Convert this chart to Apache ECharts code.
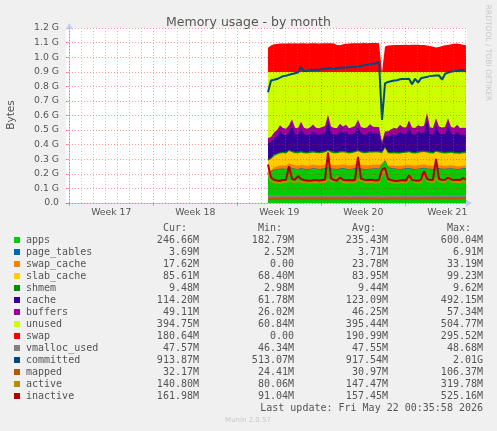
<!DOCTYPE html>
<html><head><meta charset="utf-8">
<script src="https://cdn.jsdelivr.net/npm/echarts@6/dist/echarts.min.js"></script>
<style>html,body{margin:0;padding:0;background:#F0F0F0;}#c{width:497px;height:431px;}</style>
</head><body><div id="c"></div>
<script>
// time: days after the start of Week 17; one sample every 6 hours
const START_DAY = 16.558;
const STEP_DAY = 0.25;
const weekLabels = ['Week 17', 'Week 18', 'Week 19', 'Week 20', 'Week 21'];
const weekStartDays = [0, 7, 14, 21, 28];
const X_MIN = -0.275, X_MAX = 33.14;
const Y_MAX = 1.2, Y_STEP = 0.1;

// values in G (1024 M)
const apps = [0.205,0.212,0.226,0.229,0.231,0.233,0.230,0.245,0.236,0.232,
0.230,0.234,0.231,0.229,0.232,0.235,0.233,0.230,0.231,0.236,
0.242,0.234,0.231,0.230,0.233,0.236,0.232,0.230,0.231,0.234,
0.240,0.233,0.230,0.229,0.231,0.233,0.235,0.232,0.262,0.288,
0.243,0.236,0.233,0.231,0.230,0.232,0.234,0.236,0.231,0.230,
0.232,0.235,0.238,0.233,0.231,0.230,0.240,0.234,0.232,0.231,
0.233,0.235,0.232,0.230,0.231,0.234,0.236];
const pageTables = [0.0030,0.0032,0.0036,0.0036,0.0036,0.0036,0.0036,0.0036,0.0036,0.0036,
0.0036,0.0036,0.0036,0.0036,0.0036,0.0036,0.0036,0.0036,0.0036,0.0036,
0.0036,0.0036,0.0036,0.0036,0.0036,0.0036,0.0036,0.0036,0.0036,0.0036,
0.0036,0.0036,0.0036,0.0036,0.0036,0.0036,0.0036,0.0036,0.0036,0.0036,
0.0036,0.0036,0.0036,0.0036,0.0036,0.0036,0.0036,0.0036,0.0036,0.0036,
0.0036,0.0036,0.0036,0.0036,0.0036,0.0036,0.0036,0.0036,0.0036,0.0036,
0.0036,0.0036,0.0036,0.0036,0.0036,0.0036,0.0036];
const swapCache = [0.006,0.010,0.015,0.020,0.022,0.023,0.024,0.024,0.025,0.024,
0.024,0.025,0.024,0.023,0.024,0.025,0.024,0.024,0.025,0.025,
0.026,0.025,0.024,0.025,0.026,0.025,0.025,0.024,0.025,0.026,
0.026,0.025,0.025,0.026,0.026,0.025,0.026,0.026,0.000,0.006,
0.012,0.017,0.020,0.021,0.022,0.022,0.023,0.023,0.022,0.023,
0.023,0.024,0.024,0.023,0.022,0.022,0.023,0.022,0.021,0.021,
0.020,0.020,0.019,0.019,0.018,0.018,0.018];
const slabCache = [0.076,0.076,0.078,0.080,0.082,0.083,0.082,0.084,0.083,0.082,
0.083,0.084,0.082,0.083,0.084,0.083,0.082,0.083,0.084,0.083,
0.085,0.084,0.083,0.082,0.084,0.083,0.084,0.082,0.083,0.084,
0.085,0.084,0.083,0.084,0.085,0.084,0.083,0.084,0.075,0.080,
0.082,0.083,0.084,0.083,0.084,0.085,0.084,0.085,0.084,0.083,
0.084,0.085,0.084,0.086,0.085,0.084,0.085,0.086,0.085,0.084,
0.085,0.086,0.085,0.086,0.085,0.086,0.086];
const shmem = [0.0092,0.0092,0.0092,0.0092,0.0092,0.0092,0.0092,0.0092,0.0092,0.0092,
0.0092,0.0092,0.0092,0.0092,0.0092,0.0092,0.0092,0.0092,0.0092,0.0092,
0.0092,0.0092,0.0092,0.0092,0.0092,0.0092,0.0092,0.0092,0.0092,0.0092,
0.0092,0.0092,0.0092,0.0092,0.0092,0.0092,0.0092,0.0092,0.0092,0.0092,
0.0092,0.0092,0.0092,0.0092,0.0092,0.0092,0.0092,0.0092,0.0092,0.0092,
0.0092,0.0092,0.0092,0.0092,0.0092,0.0092,0.0092,0.0092,0.0092,0.0092,
0.0092,0.0092,0.0092,0.0092,0.0092,0.0092,0.0092];
const cache = [0.110,0.108,0.112,0.115,0.140,0.118,0.116,0.122,0.170,0.120,
0.118,0.155,0.121,0.117,0.119,0.135,0.120,0.118,0.122,0.125,
0.190,0.123,0.118,0.120,0.140,0.121,0.135,0.119,0.122,0.124,
0.160,0.121,0.118,0.120,0.138,0.122,0.119,0.121,0.050,0.075,
0.105,0.115,0.120,0.118,0.140,0.121,0.119,0.160,0.122,0.120,
0.135,0.121,0.124,0.210,0.122,0.120,0.170,0.123,0.121,0.125,
0.180,0.122,0.120,0.140,0.121,0.118,0.114];
const buffers = [0.036,0.035,0.040,0.043,0.046,0.045,0.044,0.046,0.048,0.045,
0.044,0.047,0.045,0.044,0.046,0.047,0.045,0.044,0.046,0.047,
0.050,0.046,0.045,0.044,0.047,0.046,0.047,0.045,0.046,0.047,
0.049,0.046,0.045,0.046,0.048,0.046,0.045,0.046,0.020,0.030,
0.038,0.042,0.044,0.045,0.047,0.046,0.045,0.049,0.046,0.045,
0.047,0.046,0.047,0.052,0.046,0.045,0.050,0.047,0.046,0.047,
0.050,0.047,0.046,0.048,0.047,0.048,0.048];
const unused = [0.4528,0.4446,0.4142,0.3982,0.3642,0.3832,0.3892,0.3642,0.3232,0.3822,
0.3862,0.3402,0.3822,0.3892,0.3802,0.3602,0.3812,0.3862,0.3772,0.3692,
0.2922,0.3732,0.3842,0.3842,0.3552,0.3742,0.3622,0.3852,0.3782,0.3702,
0.3252,0.3762,0.3842,0.3802,0.3572,0.3752,0.3772,0.3762,0.4782,0.4062,
0.4052,0.3922,0.3842,0.3872,0.3622,0.3792,0.3802,0.3322,0.3802,0.3842,
0.3642,0.3742,0.3682,0.2812,0.3792,0.3842,0.3172,0.3732,0.3802,0.3772,
0.3172,0.3752,0.3832,0.3622,0.3832,0.3812,0.3832];
const swap = [0.167,0.182,0.190,0.193,0.195,0.196,0.195,0.197,0.196,0.197,
0.196,0.198,0.197,0.196,0.197,0.198,0.197,0.196,0.197,0.198,
0.198,0.197,0.196,0.186,0.184,0.190,0.194,0.196,0.197,0.198,
0.197,0.198,0.199,0.198,0.199,0.200,0.199,0.198,0.000,0.175,
0.182,0.184,0.185,0.185,0.186,0.186,0.187,0.186,0.187,0.188,
0.187,0.186,0.185,0.182,0.178,0.174,0.168,0.172,0.178,0.183,
0.186,0.190,0.194,0.195,0.193,0.188,0.183];
const vmallocUsed = [0.0453,0.0460,0.0463,0.0464,0.0465,0.0465,0.0465,0.0465,0.0465,0.0465,
0.0465,0.0465,0.0465,0.0465,0.0465,0.0465,0.0465,0.0465,0.0465,0.0465,
0.0465,0.0465,0.0465,0.0465,0.0465,0.0465,0.0465,0.0465,0.0465,0.0465,
0.0465,0.0465,0.0465,0.0465,0.0465,0.0465,0.0465,0.0465,0.0455,0.0460,
0.0463,0.0464,0.0465,0.0465,0.0465,0.0465,0.0465,0.0465,0.0465,0.0465,
0.0465,0.0465,0.0465,0.0465,0.0465,0.0465,0.0465,0.0465,0.0465,0.0465,
0.0465,0.0465,0.0465,0.0465,0.0465,0.0465,0.0465];
const committed = [0.760,0.840,0.845,0.850,0.860,0.870,0.872,0.880,0.885,0.890,
0.895,0.930,0.905,0.905,0.910,0.910,0.915,0.912,0.918,0.920,
0.922,0.925,0.920,0.925,0.928,0.930,0.928,0.932,0.935,0.930,
0.935,0.940,0.945,0.948,0.950,0.955,0.958,0.965,0.570,0.820,
0.830,0.835,0.840,0.842,0.848,0.850,0.850,0.852,0.815,0.852,
0.825,0.855,0.860,0.865,0.870,0.872,0.875,0.875,0.845,0.885,
0.895,0.900,0.905,0.905,0.910,0.912,0.900];
const mapped = [0.026,0.028,0.029,0.030,0.030,0.031,0.030,0.031,0.030,0.030,
0.031,0.030,0.030,0.031,0.030,0.030,0.031,0.030,0.030,0.031,
0.031,0.030,0.030,0.031,0.030,0.030,0.031,0.030,0.030,0.031,
0.031,0.030,0.030,0.031,0.030,0.030,0.031,0.030,0.027,0.029,
0.030,0.031,0.031,0.030,0.031,0.031,0.030,0.031,0.031,0.030,
0.031,0.031,0.031,0.032,0.031,0.031,0.032,0.031,0.031,0.032,
0.032,0.031,0.032,0.032,0.031,0.032,0.032];
const active = [0.210,0.150,0.142,0.140,0.138,0.142,0.145,0.150,0.148,0.143,
0.150,0.146,0.142,0.140,0.138,0.141,0.143,0.140,0.142,0.145,
0.160,0.150,0.145,0.185,0.150,0.144,0.141,0.143,0.140,0.142,
0.165,0.150,0.146,0.143,0.145,0.142,0.140,0.143,0.200,0.220,
0.150,0.143,0.138,0.136,0.140,0.143,0.138,0.160,0.170,0.141,
0.138,0.145,0.200,0.150,0.145,0.142,0.170,0.150,0.146,0.143,
0.185,0.148,0.143,0.145,0.142,0.150,0.141];
const inactive = [0.264,0.175,0.160,0.155,0.152,0.158,0.160,0.253,0.165,0.160,
0.185,0.165,0.158,0.155,0.152,0.156,0.158,0.155,0.157,0.160,
0.345,0.170,0.158,0.154,0.175,0.160,0.156,0.158,0.155,0.158,
0.317,0.168,0.160,0.158,0.160,0.157,0.155,0.158,0.230,0.240,
0.165,0.158,0.152,0.150,0.155,0.158,0.152,0.190,0.160,0.155,
0.152,0.160,0.218,0.165,0.160,0.158,0.303,0.165,0.160,0.158,
0.175,0.162,0.158,0.160,0.157,0.170,0.162];

const seriesNames = ['apps','page_tables','swap_cache','slab_cache','shmem','cache','buffers','unused','swap','vmalloc_used','committed','mapped','active','inactive'];
const seriesColors = ['#00CC00','#0066B3','#FF8000','#FFCC00','#008F00','#330099','#990099','#CCFF00','#FF0000','#808080','#00487D','#B35A00','#B38F00','#B30000'];
const stackedData = [apps, pageTables, swapCache, slabCache, shmem, cache, buffers, unused, swap];
const lineData = [vmallocUsed, committed, mapped, active, inactive];
const curText = ['246.66M','3.69M','17.62M','85.61M','9.48M','114.20M','49.11M','394.75M','180.64M','47.57M','913.87M','32.17M','140.80M','161.98M'];
const minText = ['182.79M','2.52M','0.00','68.40M','2.98M','61.78M','26.02M','60.84M','0.00','46.34M','513.07M','24.41M','80.06M','91.04M'];
const avgText = ['235.43M','3.71M','23.78M','83.95M','9.44M','123.09M','46.25M','395.44M','190.99M','47.55M','917.54M','30.97M','147.47M','157.45M'];
const maxText = ['600.04M','6.91M','33.19M','99.23M','9.62M','492.15M','57.34M','504.77M','295.52M','48.68M','2.01G','106.37M','319.78M','525.16M'];
const colHeaders = ['Cur:','Min:','Avg:','Max:'];
const lastUpdate = 'Last update: Fri May 22 00:35:58 2026';

const SANS = 'DejaVu Sans', MONO = 'DejaVu Sans Mono';
const FONT_COLOR = '#555';
const GRID_MINOR = 'rgba(128,128,128,0.42)';
const GRID_MAJOR = 'rgba(255,0,0,0.38)';
const AXIS_COLOR = '#C4CCF4';

const xAt = i => START_DAY + i * STEP_DAY;
const pts = arr => arr.map((v, i) => [xAt(i), v]);

// stack tops (running sums) for the area layers, drawn top-down so lower layers cover the upper ones
const stackTops = [];
stackedData.forEach((arr, k) => {
  stackTops.push(arr.map((v, i) => (k ? stackTops[k - 1][i] : 0) + v));
});
const series = [];
for (let k = stackedData.length - 1; k >= 0; k--) {
  series.push({
    name: seriesNames[k], type: 'line', data: pts(stackTops[k]),
    symbol: 'none', showSymbol: false, lineStyle: { width: 0 },
    areaStyle: { color: seriesColors[k], opacity: 1, origin: 'start' }, itemStyle: { color: seriesColors[k] },
    silent: true, animation: false
  });
}
lineData.forEach((arr, j) => {
  const k = stackedData.length + j;
  series.push({
    name: seriesNames[k], type: 'line', data: pts(arr), symbol: 'none', showSymbol: false,
    lineStyle: { width: k === 9 ? 2.5 : 2, color: seriesColors[k] }, itemStyle: { color: seriesColors[k] },
    silent: true, animation: false
  });
});
// vertical grid lines (days, weeks) drawn on top like rrdtool
const vlines = [];
for (let d = Math.ceil(X_MIN); d <= Math.floor(X_MAX); d++) {
  const major = weekStartDays.indexOf(d) >= 0;
  vlines.push({ xAxis: d, lineStyle: { color: major ? GRID_MAJOR : GRID_MINOR, type: [1, 2], width: 1 } });
}
series.push({
  type: 'line', data: [], silent: true, animation: false,
  markLine: { silent: true, symbol: 'none', label: { show: false }, animation: false, data: vlines, z: 6 }
});

const weekLabelAt = {};
weekLabels.forEach((l, i) => { weekLabelAt[(weekStartDays[i] + 3.5).toFixed(1)] = l; });

const graphics = [];
graphics.push({ type: 'text', x: 11, y: 115, rotation: Math.PI / 2,
  style: { text: 'Bytes', font: '10.5px "' + SANS + '"', fill: FONT_COLOR, align: 'center', verticalAlign: 'middle' } });
graphics.push({ type: 'text', x: 487.5, y: 53, rotation: -Math.PI / 2,
  style: { text: 'RRDTOOL / TOBI OETIKER', font: '7.5px "' + SANS + '"', fill: '#C8C8C8', align: 'center', verticalAlign: 'middle' } });
const colRight = [199, 294, 388, 483];
colHeaders.forEach((h, c) => graphics.push({ type: 'text', x: colRight[c] - 12, y: 228,
  style: { text: h, font: '10px "' + MONO + '"', fill: FONT_COLOR, align: 'right', verticalAlign: 'middle' } }));
seriesNames.forEach((n, k) => {
  const y = 240 + 12 * k;
  graphics.push({ type: 'rect', shape: { x: 14, y: y - 3, width: 6, height: 6 }, style: { fill: seriesColors[k] } });
  graphics.push({ type: 'text', x: 26, y: y, style: { text: n, font: '10px "' + MONO + '"', fill: FONT_COLOR, align: 'left', verticalAlign: 'middle' } });
  [curText, minText, avgText, maxText].forEach((col, c) => graphics.push({ type: 'text', x: colRight[c], y: y,
    style: { text: col[k], font: '10px "' + MONO + '"', fill: FONT_COLOR, align: 'right', verticalAlign: 'middle' } }));
});
graphics.push({ type: 'text', x: 483, y: 408, style: { text: lastUpdate, font: '10px "' + MONO + '"', fill: FONT_COLOR, align: 'right', verticalAlign: 'middle' } });
graphics.push({ type: 'text', x: 248, y: 420, style: { text: 'Munin 2.0.57', font: '7px "' + SANS + '"', fill: '#C8C8C8', align: 'center', verticalAlign: 'middle' } });

const chart = echarts.init(document.getElementById('c'), null, { renderer: 'canvas', width: 497, height: 431 });
chart.setOption({
  backgroundColor: '#F0F0F0',
  animation: false,
  title: { text: 'Memory usage - by month', left: 'center', top: 11,
    textStyle: { fontFamily: SANS, fontSize: 12.5, fontWeight: 'normal', color: FONT_COLOR } },
  grid: { left: 66, right: 30, top: 28, bottom: 228, show: true, backgroundColor: '#FFFFFF', borderWidth: 0 },
  xAxis: {
    type: 'value', min: X_MIN, max: X_MAX,
    axisLine: { show: true, lineStyle: { color: AXIS_COLOR, width: 1 }, symbol: ['none', 'arrow'], symbolSize: [6, 7], symbolOffset: [0, 5] },
    axisTick: { show: true, customValues: weekStartDays, length: 3, lineStyle: { color: GRID_MAJOR } },
    axisLabel: { customValues: weekLabels.map((l, i) => weekStartDays[i] + 3.5), margin: 5,
      formatter: v => weekLabelAt[Number(v).toFixed(1)] || '',
      fontFamily: SANS, fontSize: 9.3, color: FONT_COLOR },
    splitLine: { show: false }
  },
  yAxis: {
    type: 'value', min: 0, max: Y_MAX, interval: Y_STEP, z: 5,
    axisLine: { show: true, lineStyle: { color: AXIS_COLOR, width: 1 }, symbol: ['none', 'arrow'], symbolSize: [6, 7], symbolOffset: [0, 5] },
    axisTick: { show: true, length: 3, lineStyle: { color: GRID_MAJOR } },
    axisLabel: { formatter: v => v === 0 ? '0.0' : v.toFixed(1) + ' G', margin: 7,
      fontFamily: SANS, fontSize: 9.3, color: FONT_COLOR },
    splitLine: { show: true, lineStyle: { color: GRID_MAJOR, type: [1, 2], width: 1 } }
  },
  series: series,
  graphic: graphics
});
</script></body></html>
